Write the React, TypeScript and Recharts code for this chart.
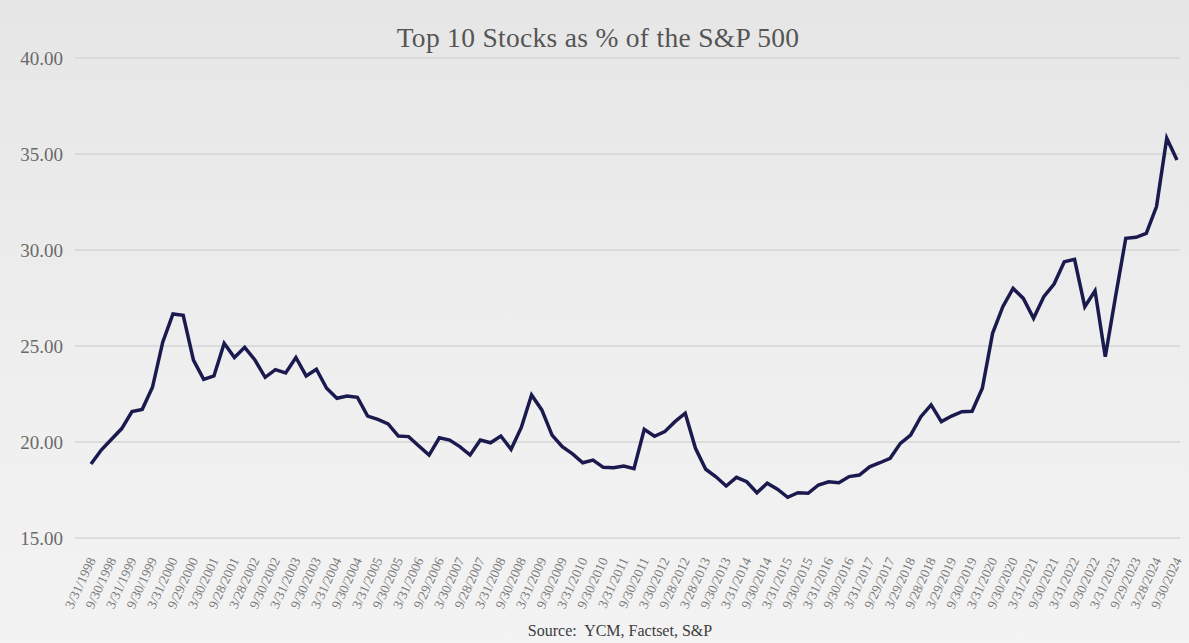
import React from "react";
import { LineChart, Line, XAxis, YAxis, CartesianGrid } from "recharts";

const dates: string[] = [
  "3/31/1998", "6/30/1998", "9/30/1998", "12/31/1998",
  "3/31/1999", "6/30/1999", "9/30/1999", "12/31/1999",
  "3/31/2000", "6/30/2000", "9/29/2000", "12/29/2000",
  "3/30/2001", "6/29/2001", "9/28/2001", "12/31/2001",
  "3/28/2002", "6/28/2002", "9/30/2002", "12/31/2002",
  "3/31/2003", "6/30/2003", "9/30/2003", "12/31/2003",
  "3/31/2004", "6/30/2004", "9/30/2004", "12/31/2004",
  "3/31/2005", "6/30/2005", "9/30/2005", "12/30/2005",
  "3/31/2006", "6/30/2006", "9/29/2006", "12/29/2006",
  "3/30/2007", "6/29/2007", "9/28/2007", "12/31/2007",
  "3/31/2008", "6/30/2008", "9/30/2008", "12/31/2008",
  "3/31/2009", "6/30/2009", "9/30/2009", "12/31/2009",
  "3/31/2010", "6/30/2010", "9/30/2010", "12/31/2010",
  "3/31/2011", "6/30/2011", "9/30/2011", "12/30/2011",
  "3/30/2012", "6/29/2012", "9/28/2012", "12/31/2012",
  "3/28/2013", "6/28/2013", "9/30/2013", "12/31/2013",
  "3/31/2014", "6/30/2014", "9/30/2014", "12/31/2014",
  "3/31/2015", "6/30/2015", "9/30/2015", "12/31/2015",
  "3/31/2016", "6/30/2016", "9/30/2016", "12/30/2016",
  "3/31/2017", "6/30/2017", "9/29/2017", "12/29/2017",
  "3/29/2018", "6/29/2018", "9/28/2018", "12/31/2018",
  "3/29/2019", "6/28/2019", "9/30/2019", "12/31/2019",
  "3/31/2020", "6/30/2020", "9/30/2020", "12/31/2020",
  "3/31/2021", "6/30/2021", "9/30/2021", "12/31/2021",
  "3/31/2022", "6/30/2022", "9/30/2022", "12/30/2022",
  "3/31/2023", "6/30/2023", "9/29/2023", "12/29/2023",
  "3/28/2024", "6/28/2024", "9/30/2024",
];

const top10Share: number[] = [
  18.85, 19.58, 20.14, 20.7, 21.58, 21.7, 22.85, 25.2,
  26.67, 26.6, 24.27, 23.26, 23.44, 25.14, 24.4, 24.93,
  24.27, 23.37, 23.77, 23.6, 24.4, 23.44, 23.79, 22.8,
  22.28, 22.4, 22.33, 21.35, 21.18, 20.94, 20.31, 20.28,
  19.79, 19.32, 20.22, 20.1, 19.76, 19.32, 20.1, 19.96,
  20.31, 19.62, 20.76, 22.45, 21.67, 20.36, 19.76, 19.38,
  18.92, 19.06, 18.68, 18.66, 18.75, 18.61, 20.66, 20.3,
  20.54, 21.06, 21.5, 19.67, 18.58, 18.19, 17.71, 18.16,
  17.93, 17.36, 17.85, 17.54, 17.12, 17.36, 17.33, 17.76,
  17.93, 17.88, 18.2, 18.28, 18.71, 18.92, 19.15, 19.93,
  20.36, 21.32, 21.93, 21.06, 21.35, 21.58, 21.6, 22.8,
  25.66, 27.05, 28.0, 27.48, 26.44, 27.57, 28.23, 29.39,
  29.51, 27.05, 27.88, 24.44, 27.57, 30.61, 30.66, 30.87,
  32.26, 35.82, 34.69,
];

const yTicks: number[] = [15, 20, 25, 30, 35, 40];

const titleText = "Top 10 Stocks as % of the S&P 500";
const sourceText = "Source:  YCM, Factset, S&P";

const data = dates.map((d, i) => ({ date: d, value: top10Share[i] }));

const FONT = "'Liberation Serif', 'DejaVu Serif', serif";

const XTick = (props: any) => {
  const { x, y, payload } = props;
  const ax = x + 5;
  const ay = y + 14;
  return (
    <text
      x={ax}
      y={ay}
      transform={`rotate(-65, ${ax}, ${ay})`}
      textAnchor="end"
      fontSize={13.5}
      fill="#7a7a7a"
      fontFamily={FONT}
    >
      {payload.value}
    </text>
  );
};

export default function App() {
  return (
    <div
      style={{
        position: "absolute",
        left: 0,
        top: 0,
        width: 1189,
        height: 643,
        background: "linear-gradient(to bottom, #e6e6e6 0%, #efefef 60%, #f3f3f3 100%)",
        overflow: "hidden",
      }}
    >
      <div
        style={{
          position: "absolute",
          left: 0,
          top: 22,
          width: 1196,
          textAlign: "center",
          fontFamily: FONT,
          fontSize: 27.5,
          color: "#555555",
          letterSpacing: 0.3,
        }}
      >
        {titleText}
      </div>
      <LineChart
        width={1189}
        height={643}
        data={data}
        margin={{ top: 58, right: 9, bottom: 0, left: 0 }}
      >
        <CartesianGrid
          vertical={false}
          stroke="#d5d5d5"
          strokeWidth={1.5}
        />
        <XAxis
          dataKey="date"
          interval={1}
          axisLine={false}
          tickLine={false}
          padding={{ left: 16, right: 3 }}
          tick={<XTick />}
          height={105}
        />
        <YAxis
          domain={[15, 40]}
          ticks={yTicks}
          width={75}
          axisLine={false}
          tickLine={false}
          tickSize={0}
          tickMargin={12}
          tickFormatter={(v: number) => v.toFixed(2)}
          tick={{ fontSize: 19, fill: "#6a6a6a", fontFamily: FONT }}
        />
        <Line
          type="linear"
          dataKey="value"
          stroke="#1b1a4f"
          strokeWidth={3.5}
          dot={false}
          isAnimationActive={false}
        />
      </LineChart>
      <div
        style={{
          position: "absolute",
          left: 0,
          top: 622,
          width: 1240,
          textAlign: "center",
          fontFamily: FONT,
          fontSize: 16,
          color: "#3c3c3c",
          whiteSpace: "pre",
        }}
      >
        {sourceText}
      </div>
    </div>
  );
}
